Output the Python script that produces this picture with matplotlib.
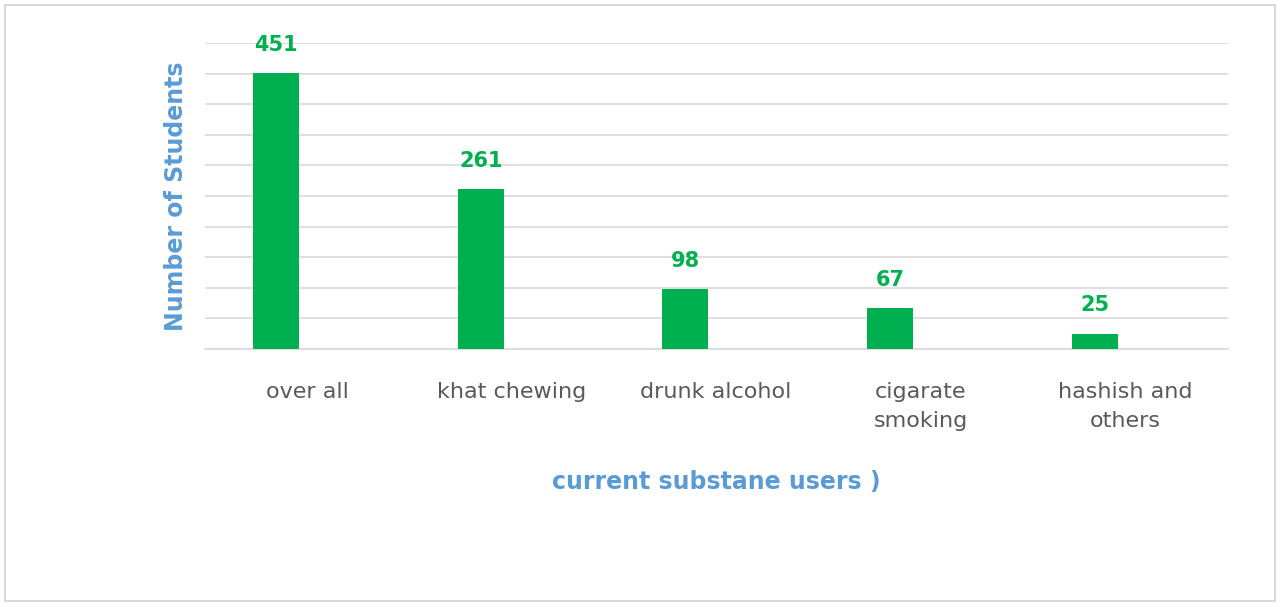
import matplotlib
matplotlib.use("Agg")
import matplotlib.pyplot as plt
from matplotlib.patches import Rectangle

categories = ["over all", "khat chewing", "drunk alcohol", "cigarate\nsmoking", "hashish and\nothers"]
values = [451, 261, 98, 67, 25]

fig = plt.figure(figsize=(12.8, 6.07), dpi=100)
fig.patches.append(Rectangle((0.004, 0.01), 0.992, 0.982, transform=fig.transFigure,
                             fill=False, edgecolor="#d0d0d0", linewidth=1.2))
ax = fig.add_axes([0.16, 0.425, 0.799, 0.504])
x = list(range(len(categories)))
bx = [i - 0.15 for i in x]
ax.bar(bx, values, width=0.225, color="#00b050", zorder=3)
for i, v in zip(bx, values):
    ax.text(i, v + 30, str(v), ha="center", va="bottom", color="#00b050",
            fontsize=15, fontweight="bold")
ax.set_xlim(-0.5, len(categories) - 0.5)
ax.set_ylim(0, 500)
ax.set_yticks(range(0, 501, 50))
ax.yaxis.grid(True, color="#d9d9d9", linewidth=1.2, zorder=0)
ax.tick_params(axis="y", left=False, labelleft=False)
ax.set_xticks(x)
ax.set_xticklabels(categories, fontsize=16, color="#595959", linespacing=1.6)
ax.tick_params(axis="x", bottom=False, pad=20)
for s in ["top", "right", "left"]:
    ax.spines[s].set_visible(False)
ax.spines["bottom"].set_color("#d9d9d9")
ax.spines["bottom"].set_linewidth(1.2)
ax.set_xlabel("current substane users )", fontsize=17, fontweight="bold",
              color="#5b9bd5", labelpad=28)
ax.set_ylabel("Number of Students", fontsize=17, fontweight="bold",
              color="#5b9bd5", labelpad=12)
fig.savefig("out.png", dpi=100)
